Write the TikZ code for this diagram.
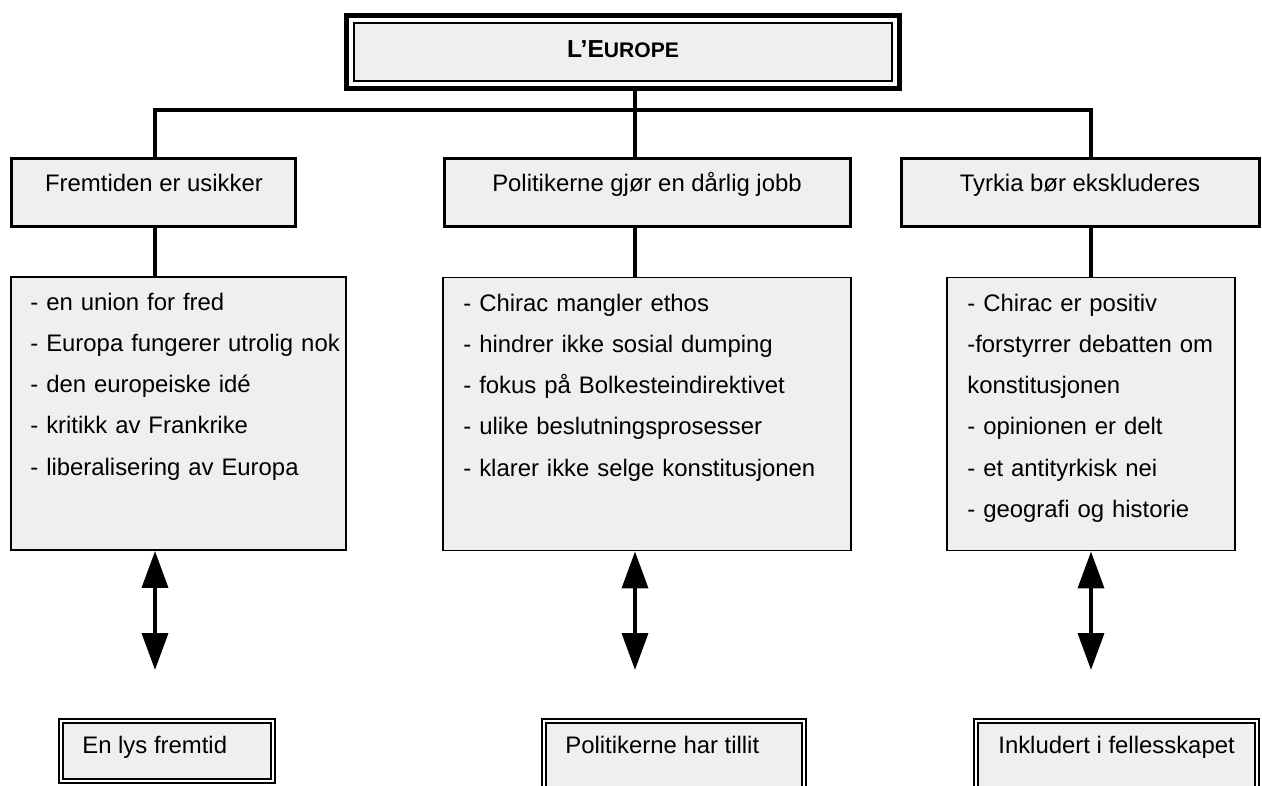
\documentclass[tikz,border=0pt]{standalone}
\usepackage{fontspec}
\setmainfont{Liberation Sans}
\usetikzlibrary{arrows.meta}
\definecolor{boxgray}{RGB}{239,239,239}

\begin{document}
\begin{tikzpicture}[x=0.02cm,y=-0.02cm,
    every node/.style={font=\fontsize{13.6}{23.5}\selectfont},
    headbox/.style={draw,fill=boxgray,line width=1.9pt,minimum height=1.35cm,inner sep=0pt},
    listbox/.style={draw,fill=boxgray,line width=0.85pt,minimum height=5.47cm,inner sep=0pt},
    goalbox/.style={draw,double=white,double distance=1.5pt,line width=0.9pt,fill=boxgray,inner sep=0pt},
    txt/.style={inner sep=0pt},
    liste/.style={inner sep=0pt,anchor=base west,align=left,text width=8cm},
    link/.style={line width=2.3pt},
    both/.style={line width=2.3pt,{Triangle[width=14.7pt,length=21pt]}-{Triangle[width=14.7pt,length=21pt]}}]
    \useasboundingbox (0,0) rectangle (1262,785);
    \clip (0,0) rectangle (1262,785);

    % title box
    \node[draw,fill=white,line width=3pt,minimum width=11.05cm,minimum height=1.45cm,inner sep=0pt] (europe) at (623,52) {};
    \draw[fill=boxgray,line width=1.2pt] ([shift={(9.5,9.5)}]europe.north west) rectangle ([shift={(-9.5,-9.5)}]europe.south east);
    \node[txt,anchor=base,font=\fontsize{14}{16}\selectfont\bfseries] (titel) at (623,57) {L’E{\fontsize{12}{14}\selectfont UROPE}};

    % three claims
    \node[headbox,minimum width=5.67cm] (fremtid) at (153.5,192.5) {};
    \node[txt,anchor=base] (fremtidtxt) at (154,191) {Fremtiden er usikker};
    \node[headbox,minimum width=8.11cm] (politikk) at (647.5,192.5) {};
    \node[txt,anchor=base] (politikktxt) at (647,191) {Politikerne gjør en dårlig jobb};
    \node[headbox,minimum width=7.15cm] (tyrkia) at (1080.5,192.5) {};
    \node[txt,anchor=base] (tyrkiatxt) at (1080,191) {Tyrkia bør ekskluderes};

    % lists
    \node[listbox,minimum width=6.71cm] (liste1) at (178.5,413.5) {};
    \node[liste] (liste1txt) at (30,310) {- en union for fred\\- Europa fungerer utrolig nok\\- den europeiske idé\\- kritikk av Frankrike\\- liberalisering av Europa};
    \node[listbox,minimum width=8.17cm] (liste2) at (647,414) {};
    \node[liste] (liste2txt) at (463,311) {- Chirac mangler ethos\\- hindrer ikke sosial dumping\\- fokus på Bolkesteindirektivet\\- ulike beslutningsprosesser\\- klarer ikke selge konstitusjonen};
    \node[listbox,minimum width=5.77cm] (liste3) at (1091,414) {};
    \node[liste] (liste3txt) at (967,311) {- Chirac er positiv\\-forstyrrer debatten om\\konstitusjonen\\- opinionen er delt\\- et antityrkisk nei\\- geografi og historie};

    % opposites
    \node[goalbox,minimum width=4.24cm,minimum height=1.2cm] (maal1) at (167,751) {};
    \node[txt,anchor=base west] (maal1txt) at (82,753) {En lys fremtid};
    \node[goalbox,minimum width=5.2cm,minimum height=2.58cm] (maal2) at (674,785.5) {};
    \node[txt,anchor=base west] (maal2txt) at (565,753) {Politikerne har tillit};
    \node[goalbox,minimum width=5.62cm,minimum height=2.58cm] (maal3) at (1116.5,785.5) {};
    \node[txt,anchor=base west] (maal3txt) at (998,753) {Inkludert i fellesskapet};

    % tree lines
    \coordinate (bus1) at (155,110);
    \coordinate (bus2) at (635,110);
    \coordinate (bus3) at (1091,110);
    \draw[link] (europe.south -| bus2) -- (bus2);
    \draw[link] (fremtid.north -| bus1) -- (bus1) -- (bus3) -- (tyrkia.north -| bus3);
    \draw[link] (bus2) -- (politikk.north -| bus2);
    \draw[link] (fremtid.south -| bus1) -- (liste1.north -| bus1);
    \draw[link] (politikk.south -| bus2) -- (liste2.north -| bus2);
    \draw[link] (tyrkia.south -| bus3) -- (liste3.north -| bus3);

    % double arrows
    \coordinate (pil1) at (155,670);
    \coordinate (pil2) at (635,670);
    \coordinate (pil3) at (1091,670);
    \draw[both] (liste1.south -| pil1) -- (pil1);
    \draw[both] (liste2.south -| pil2) -- (pil2);
    \draw[both] (liste3.south -| pil3) -- (pil3);
\end{tikzpicture}
\end{document}
